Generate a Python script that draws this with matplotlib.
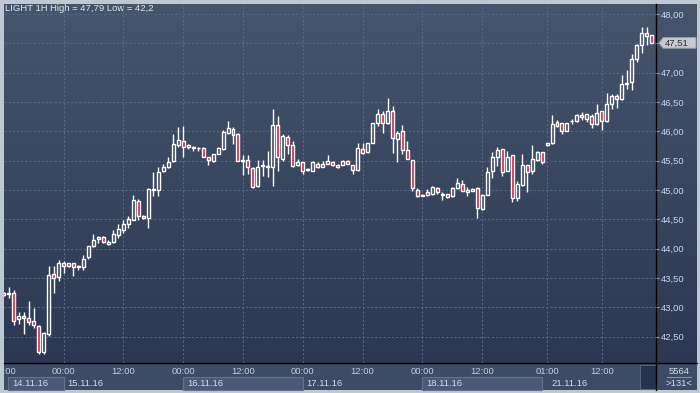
import matplotlib
matplotlib.use('Agg')
import matplotlib.pyplot as plt
import numpy as np
from matplotlib.patches import Rectangle, Polygon
from matplotlib.transforms import blended_transform_factory

plt.rcParams['font.family'] = ['Liberation Sans', 'DejaVu Sans']

# hourly bars, 14.11.16 12:00 .. 21.11.16 22:00
opens = [43.21, 43.23, 43.24, 42.80, 42.85, 42.82, 42.77, 42.68, 42.23, 42.55,
         43.56, 43.51, 43.75, 43.71, 43.75, 43.69, 43.69, 43.85, 44.05, 44.17,
         44.19, 44.08, 44.11, 44.23, 44.32, 44.42, 44.49, 44.82, 44.56, 44.52,
         45.00, 45.00, 45.32, 45.39, 45.49, 45.77, 45.84, 45.73, 45.74, 45.71,
         45.72, 45.57, 45.49, 45.62, 45.70, 45.97, 46.04, 45.95, 45.50, 45.51,
         45.37, 45.06, 45.41, 45.40, 45.39, 46.11, 45.53, 45.90, 45.76, 45.42,
         45.47, 45.34, 45.33, 45.45, 45.39, 45.45, 45.48, 45.43, 45.43, 45.49,
         45.43, 45.34, 45.70, 45.64, 45.81, 46.15, 46.30, 46.15, 46.34, 45.87,
         46.00, 45.68, 45.51, 45.00, 44.90, 44.96, 44.93, 45.03, 44.94, 44.93,
         44.89, 45.03, 45.10, 45.00, 44.98, 45.03, 44.68, 44.92, 45.32, 45.57,
         45.70, 45.33, 45.59, 44.86, 45.09, 45.43, 45.32, 45.51, 45.64, 45.76,
         45.80, 46.10, 46.14, 46.01, 46.17, 46.18, 46.28, 46.22, 46.27, 46.13,
         46.35, 46.18, 46.47, 46.61, 46.55, 46.81, 46.85, 47.23, 47.48, 47.68,
         47.64]
highs = [43.26, 43.34, 43.30, 42.91, 42.92, 43.11, 42.99, 42.69, 42.57, 43.70,
         43.70, 43.81, 43.79, 43.76, 43.75, 43.72, 43.89, 44.05, 44.25, 44.22,
         44.22, 44.15, 44.32, 44.42, 44.49, 44.56, 44.92, 44.84, 44.57, 45.03,
         45.30, 45.39, 45.44, 45.56, 45.95, 46.08, 46.09, 45.78, 45.75, 45.74,
         45.74, 45.57, 45.62, 45.73, 46.02, 46.17, 46.07, 45.97, 45.60, 45.59,
         45.39, 45.51, 45.51, 45.67, 46.39, 46.27, 45.95, 45.94, 45.84, 45.53,
         45.47, 45.37, 45.49, 45.48, 45.49, 45.60, 45.50, 45.45, 45.52, 45.51,
         45.43, 45.80, 45.81, 45.81, 46.15, 46.38, 46.34, 46.57, 46.44, 46.01,
         46.11, 45.83, 45.51, 45.03, 44.93, 45.02, 45.07, 45.05, 44.96, 44.93,
         45.05, 45.20, 45.17, 45.05, 45.03, 45.05, 44.93, 45.40, 45.64, 45.73,
         45.70, 45.67, 45.60, 45.16, 45.61, 45.43, 45.77, 45.66, 45.64, 45.80,
         46.28, 46.19, 46.15, 46.15, 46.22, 46.30, 46.33, 46.30, 46.29, 46.46,
         46.35, 46.66, 46.63, 46.63, 46.97, 47.04, 47.32, 47.49, 47.78, 47.79,
         47.65]
lows = [43.19, 43.15, 42.69, 42.72, 42.55, 42.69, 42.64, 42.20, 42.21, 42.51,
        43.25, 43.44, 43.59, 43.68, 43.53, 43.63, 43.63, 43.82, 44.03, 44.09,
        44.09, 44.07, 44.09, 44.18, 44.27, 44.36, 44.48, 44.49, 44.50, 44.36,
        44.90, 44.90, 45.30, 45.37, 45.48, 45.74, 45.56, 45.70, 45.66, 45.67,
        45.56, 45.42, 45.48, 45.61, 45.68, 45.95, 45.78, 45.49, 45.26, 45.28,
        45.03, 45.05, 45.24, 45.22, 45.07, 45.33, 45.49, 45.62, 45.39, 45.41,
        45.28, 45.33, 45.32, 45.37, 45.39, 45.45, 45.41, 45.38, 45.42, 45.44,
        45.27, 45.33, 45.61, 45.63, 45.80, 46.09, 45.98, 46.12, 45.63, 45.47,
        45.61, 45.53, 44.99, 44.88, 44.89, 44.90, 44.92, 44.94, 44.83, 44.87,
        44.88, 45.01, 44.98, 44.89, 44.98, 44.53, 44.66, 44.91, 45.20, 45.41,
        45.24, 45.32, 44.80, 44.81, 45.07, 44.96, 45.27, 45.50, 45.45, 45.75,
        45.79, 46.08, 45.95, 46.00, 46.12, 46.16, 46.20, 46.16, 46.05, 46.11,
        46.03, 46.16, 46.38, 46.40, 46.53, 46.72, 46.70, 47.19, 47.34, 47.48,
        47.50]
closes = [43.24, 43.25, 42.77, 42.85, 42.82, 42.74, 42.69, 42.24, 42.56, 43.55,
          43.49, 43.75, 43.70, 43.75, 43.68, 43.70, 43.83, 44.05, 44.14, 44.19,
          44.11, 44.12, 44.25, 44.33, 44.42, 44.50, 44.83, 44.56, 44.52, 45.02,
          45.02, 45.31, 45.40, 45.48, 45.78, 45.85, 45.74, 45.77, 45.72, 45.72,
          45.57, 45.51, 45.61, 45.72, 45.99, 46.06, 45.94, 45.49, 45.51, 45.39,
          45.05, 45.40, 45.43, 45.41, 46.11, 45.56, 45.93, 45.77, 45.41, 45.47,
          45.32, 45.35, 45.47, 45.39, 45.44, 45.49, 45.43, 45.39, 45.50, 45.44,
          45.34, 45.72, 45.63, 45.80, 46.14, 46.30, 46.14, 46.34, 45.89, 45.97,
          45.68, 45.53, 45.03, 44.89, 44.91, 44.91, 45.05, 44.96, 44.92, 44.88,
          45.03, 45.12, 44.98, 44.97, 45.02, 44.69, 44.91, 45.31, 45.57, 45.68,
          45.31, 45.57, 44.86, 45.10, 45.43, 45.30, 45.53, 45.64, 45.47, 45.80,
          46.13, 46.16, 46.01, 46.14, 46.18, 46.28, 46.24, 46.29, 46.12, 46.32,
          46.18, 46.46, 46.60, 46.56, 46.81, 46.82, 47.23, 47.48, 47.68, 47.63,
          47.51]

price_ticks = [42.5, 43.0, 43.5, 44.0, 44.5, 45.0, 45.5, 46.0, 46.5, 47.0, 47.5, 48.0]
time_pos = [0, 12, 24, 36, 48, 60, 72, 84, 96, 109, 120]
time_labels = ['12:00', '00:00', '12:00', '00:00', '12:00', '00:00', '12:00',
               '00:00', '12:00', '01:00', '12:00']
day_start = [0.86, 12, 36, 60, 84, 109]
day_end = [12, 36, 60, 84, 108, 127.3]
day_labels = ['14.11.16', '15.11.16', '16.11.16', '17.11.16', '18.11.16', '21.11.16']
day_shaded = [True, False, True, False, True, False]

W, H = 700, 393
fig = plt.figure(figsize=(7, 3.93), dpi=100)
fig.patch.set_facecolor('#bfc7d3')

# background panels in pixel coordinates
bg = fig.add_axes([0, 0, 1, 1])
bg.set_xlim(0, W)
bg.set_ylim(H, 0)
bg.axis('off')

t = np.linspace(0, 1, 256)[:, None]
top = np.array([70, 84, 108]) / 255
bot = np.array([44, 56, 83]) / 255
grad = top * (1 - t[..., None]) + bot * t[..., None]
grad = np.repeat(grad, 2, axis=1)
bg.imshow(grad, extent=[4, 697, 363, 4], aspect='auto', interpolation='bilinear', zorder=0)
bg.add_patch(Rectangle((4, 363), 693, 27, facecolor='#3e4b66', edgecolor='none', zorder=1))
bg.add_patch(Rectangle((639.5, 365), 16, 24, facecolor='#27334c', edgecolor='#56627c', lw=0.8, zorder=2))
bg.plot([4, 697], [363, 363], color='black', lw=1, zorder=3)
bg.plot([656, 656], [4, 390], color='black', lw=1, zorder=3)
bg.plot([667, 691], [377, 377], color='#8793aa', lw=0.8, zorder=3)
bg.text(679, 371, '5564', color='#d5dcea', fontsize=6.8, ha='center', va='center', zorder=4)
bg.text(679, 383.5, '>131<', color='#d5dcea', fontsize=6.8, ha='center', va='center', zorder=4)
bg.text(5, 8.5, 'LIGHT 1H High = 47,79 Low = 42,2', color='#e2e6ee', fontsize=6.8,
        ha='left', va='center', zorder=4)
clip_rect = Rectangle((4, 363), 652, 27, transform=bg.transData, facecolor='none', edgecolor='none')
bg.add_patch(clip_rect)

# main chart
ax = fig.add_axes([4 / W, 1 - 363 / H, 652 / W, 359 / H])
ax.set_facecolor('none')
x = np.arange(len(opens))
o = np.array(opens)
c = np.array(closes)
hi = np.array(highs)
lo = np.array(lows)
body_top = np.maximum(o, c)
body_bot = np.minimum(o, c)
up = c >= o

ax.vlines(x, body_top, hi, color='white', lw=1, zorder=3)
ax.vlines(x, lo, body_bot, color='white', lw=1, zorder=3)
heights = np.maximum(body_top - body_bot, 0.006)
ax.bar(x[up], heights[up], bottom=body_bot[up], width=0.6,
       facecolor='none', edgecolor='white', lw=1, zorder=4)
ax.bar(x[~up], heights[~up], bottom=body_bot[~up], width=0.6,
       facecolor='#e3173c', edgecolor='white', lw=1, zorder=4)

ax.set_xlim(0.06, 130.86)
ax.set_ylim(42.048, 48.174)
for s in ax.spines.values():
    s.set_visible(False)

last = closes[-1]

ax.set_xticks(time_pos[1:])
ax.set_xticklabels([])
ax.tick_params(axis='x', length=0)
ax.yaxis.tick_right()
ax.set_yticks(price_ticks)
# the 47,50 label sits under the last-price tag, as in the terminal
ax.set_yticklabels(['' if abs(p - last) < 0.1 else f'{p:.2f}'.replace('.', ',')
                    for p in price_ticks])
ax.tick_params(axis='y', length=2.5, width=0.8, color='#8a9bbd', pad=1.2,
               labelsize=6.8, labelcolor='#c9d3e6')
ax.grid(True, color='#58688d', linestyle=(0, (2, 2)), linewidth=0.75)
ax.set_axisbelow(True)

xt = ax.get_xaxis_transform()
for pos, lab in zip(time_pos, time_labels):
    tx = ax.text(pos, -0.025, lab, transform=xt, ha='center', va='center',
                 fontsize=6.8, color='#c3cde0', clip_on=False)
    tx.set_clip_path(clip_rect)

for s0, s1, lab, shaded in zip(day_start, day_end, day_labels, day_shaded):
    if shaded:
        ax.add_patch(Rectangle((s0, -0.075), s1 - s0, 0.036, transform=xt,
                               facecolor='#4b5976', edgecolor='#65728e', lw=0.8,
                               clip_on=False, zorder=1))
    ax.text(s0 + 0.8, -0.0565, lab, transform=xt, ha='left', va='center',
            fontsize=6.8, color='#d3dae8', clip_on=False)

# last price tag
bt = blended_transform_factory(ax.transAxes, ax.transData)
dy = 5.3 / 58.6
tag = Polygon([(1.0046, last), (1.011, last + dy), (1.0613, last + dy),
               (1.0613, last - dy), (1.011, last - dy)], closed=True,
              transform=bt, facecolor='#c6cad0', edgecolor='#9aa1aa', lw=0.7,
              clip_on=False, zorder=5)
ax.add_patch(tag)
ax.text(1.013, last, f'{last:.2f}'.replace('.', ','), transform=bt, ha='left',
        va='center', fontsize=6.8, color='#2a2d33', clip_on=False, zorder=6)

fig.savefig('out.png', dpi=100, facecolor=fig.get_facecolor())
